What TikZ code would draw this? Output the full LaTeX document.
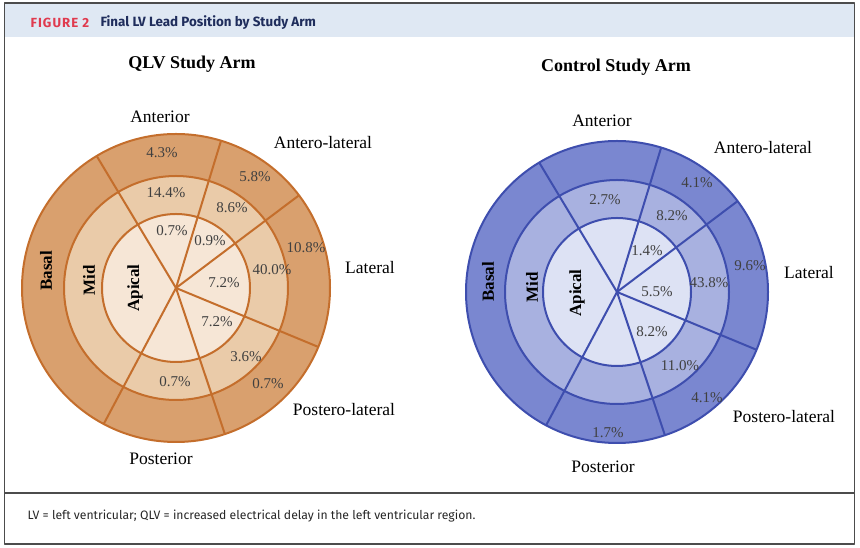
\documentclass[tikz,border=0pt]{standalone}
\usepackage{fontspec}
\setmainfont{Liberation Serif}
\newfontfamily\headfont{Fira Sans}
\definecolor{figRed}{HTML}{E03A4E}
\definecolor{figNavy}{HTML}{1F2D5C}
\definecolor{headBand}{HTML}{DFE8F3}
\definecolor{qlvOut}{HTML}{D9A06E}
\definecolor{qlvMid}{HTML}{EACBA9}
\definecolor{qlvIn}{HTML}{F6E6D6}
\definecolor{qlvLine}{HTML}{C46E2C}
\definecolor{ctlOut}{HTML}{7A87D0}
\definecolor{ctlMid}{HTML}{A8B1E0}
\definecolor{ctlIn}{HTML}{DDE2F4}
\definecolor{ctlLine}{HTML}{3E4EAE}
\begin{document}
\begin{tikzpicture}[x=1pt,y=1pt,line join=round]
		\tikzset{declare function={rm=112;ri=74;},
			pct/.style={font=\fontsize{15}{15}\selectfont,text=black!75},
			wall/.style={font=\fontsize{17.5}{18}\selectfont},
			level/.style={font=\bfseries\fontsize{17}{17}\selectfont,rotate=90},
			arm/.style={font=\bfseries\fontsize{18}{18}\selectfont}}
		\useasboundingbox (0,0) rectangle (860,548);
		\path 
		(4.5,4)coordinate (SW)(854.5,545)coordinate (NE)
		(4.5,511)coordinate (HL)(854.5,55)coordinate (FR)
		(176,260)coordinate (qlv)(617,256)coordinate (ctl)
		;
		% frame, header and footer
		\fill[headBand] (HL) rectangle (NE);
		\draw[black!70,line width=1.2] (SW) rectangle (NE)
		(SW|-FR)--(FR);
		\node[anchor=west,font=\headfont\bfseries\fontsize{13.2}{14}\selectfont,text=figRed] (fignum) at (27,525.5) {\addfontfeature{LetterSpace=8}FIGURE 2};
		\node[anchor=west,font=\headfont\bfseries\fontsize{13.4}{14}\selectfont,text=figNavy] (figtitle) at (97,525.5) {Final LV Lead Position by Study Arm};
		\node[anchor=west,font=\headfont\fontsize{12.2}{13}\selectfont,text=black!85] (note) at (24,31.5) {LV = left ventricular; QLV = increased electrical delay in the left ventricular region.};
		% the two bull's-eyes
		\foreach \a/\R in {qlv/154,ctl/151}{
			\fill[\a Out] (\a) circle (\R);
			\fill[\a Mid] (\a) circle (rm);
			\fill[\a In] (\a) circle (ri);
			\foreach \t in {121,73,37,-22.5,-71.5,-118}
			\draw[\a Line,line width=2] (\a)--++(\t:\R);
			\draw[\a Line,line width=2] (\a) circle (\R) circle (rm) circle (ri);
		}
		% QLV arm
		\node[arm] (qlvTitle) at (192,484) {QLV Study Arm};
		\node[wall] (qlvAnt) at (160,431) {Anterior};
		\node[wall] (qlvAntLat) at (323,405) {Antero-lateral};
		\node[wall] (qlvLat) at (370,280) {Lateral};
		\node[wall] (qlvPostLat) at (344,138) {Postero-lateral};
		\node[wall] (qlvPost) at (161,89) {Posterior};
		\node[level] (qlvBasal) at (46,277) {Basal};
		\node[level] (qlvMidL) at (89,268) {Mid};
		\node[level] (qlvApical) at (135,260) {Apical};
		\node[pct] (q1) at (162,395) {4.3\%};
		\node[pct] (q2) at (166,355) {14.4\%};
		\node[pct] (q3) at (172,317) {0.7\%};
		\node[pct] (q4) at (210,307) {0.9\%};
		\node[pct] (q5) at (255,371) {5.8\%};
		\node[pct] (q6) at (232,340) {8.6\%};
		\node[pct] (q7) at (306,300) {10.8\%};
		\node[pct] (q8) at (272,278) {40.0\%};
		\node[pct] (q9) at (224,265) {7.2\%};
		\node[pct] (q10) at (217,226) {7.2\%};
		\node[pct] (q11) at (246,191) {3.6\%};
		\node[pct] (q12) at (268,164) {0.7\%};
		\node[pct] (q13) at (175,166) {0.7\%};
		% control arm
		\node[arm] (ctlTitle) at (616,481) {Control Study Arm};
		\node[wall] (ctlAnt) at (602,427) {Anterior};
		\node[wall] (ctlAntLat) at (763,400) {Antero-lateral};
		\node[wall] (ctlLat) at (809,275) {Lateral};
		\node[wall] (ctlPostLat) at (784,131) {Postero-lateral};
		\node[wall] (ctlPost) at (603,81) {Posterior};
		\node[level] (ctlBasal) at (488,266) {Basal};
		\node[level] (ctlMidL) at (532,261) {Mid};
		\node[level] (ctlApical) at (577,255) {Apical};
		\node[pct] (c1) at (697,365) {4.1\%};
		\node[pct] (c2) at (605,348) {2.7\%};
		\node[pct] (c3) at (672,332) {8.2\%};
		\node[pct] (c4) at (647,297) {1.4\%};
		\node[pct] (c5) at (750,282) {9.6\%};
		\node[pct] (c6) at (709,265) {43.8\%};
		\node[pct] (c7) at (657,256) {5.5\%};
		\node[pct] (c8) at (652,216) {8.2\%};
		\node[pct] (c9) at (680,182) {11.0\%};
		\node[pct] (c10) at (707,150) {4.1\%};
		\node[pct] (c11) at (608,115) {1.7\%};
	\end{tikzpicture}
\end{document}
